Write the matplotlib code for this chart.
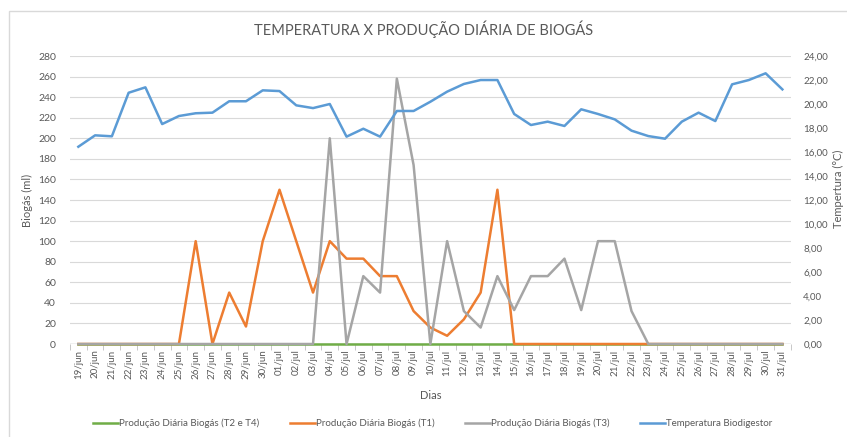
import matplotlib.pyplot as plt
from matplotlib.lines import Line2D
from matplotlib.patches import Rectangle

plt.rcParams['font.family'] = ['Lato', 'DejaVu Sans']

# dias de 19/jun a 31/jul
dias = [f"{d:02d}/jun" for d in range(19, 31)] + [f"{d:02d}/jul" for d in range(1, 32)]

# producao diaria de biogas (ml)
biogas_t2_t4 = [0] * 43
biogas_t1 = [0, 0, 0, 0, 0, 0, 0, 100, 0, 50, 17, 100, 150, 100, 50, 100, 83, 83, 66, 66,
             32, 16, 8, 24, 50, 150, 0, 0, 0, 0, 0, 0, 0, 0, 0,
             0, 0, 0, 0, 0, 0, 0, 0]
biogas_t3 = [0, 0, 0, 0, 0, 0, 0, 0, 0, 0, 0, 0, 0, 0, 0, 200, 0, 66, 50, 258,
             174, 0, 100, 32, 16, 66, 33, 66, 66, 83, 33, 100, 100, 32, 0,
             0, 0, 0, 0, 0, 0, 0, 0]

# temperatura do biodigestor (C)
temperatura = [16.44, 17.39, 17.31, 20.94, 21.39, 18.33, 19.00, 19.23, 19.28, 20.23, 20.23,
               21.14, 21.08, 19.89, 19.66, 20.00, 17.28, 17.94, 17.28, 19.42, 19.42, 20.19,
               21.03, 21.67, 22.00, 22.00, 19.17, 18.25, 18.53, 18.17, 19.56, 19.17, 18.72,
               17.78, 17.33, 17.11, 18.53, 19.28, 18.58, 21.64, 22.00, 22.56, 21.22]

c_green = '#70AD47'
c_orange = '#ED7D31'
c_gray = '#A5A5A5'
c_blue = '#5B9BD5'
txt = '#595959'

fig = plt.figure(figsize=(8.47, 4.37), dpi=100)
# moldura do grafico
fig.add_artist(Rectangle((9 / 847, -0.1), 1.1, 1.1 - 11 / 437, transform=fig.transFigure,
                         fill=False, edgecolor='#D9D9D9', lw=1))
ax = fig.add_axes([0.0826, 0.2128, 0.851, 0.659])
ax2 = ax.twinx()

x = list(range(len(dias)))
lw = 1.8
ax.plot(x, biogas_t2_t4, color=c_green, lw=lw, zorder=3, clip_on=False)
ax.plot(x, biogas_t1, color=c_orange, lw=lw, zorder=4, clip_on=False)
ax.plot(x, biogas_t3, color=c_gray, lw=lw, zorder=5, clip_on=False)
ax2.plot(x, temperatura, color=c_blue, lw=lw)

ax.set_xlim(-0.5, len(dias) - 0.5)
ax.set_ylim(0, 280)
ax.set_yticks(range(0, 281, 20))
ax2.set_ylim(0, 24)
ax2.set_yticks(range(0, 25, 2))
ax2.set_yticklabels([f"{v:.2f}".replace('.', ',') for v in range(0, 25, 2)])

ax.grid(axis='y', color='#D9D9D9', lw=0.8)
ax.set_axisbelow(True)
for a in (ax, ax2):
    for s in ('top', 'left', 'right', 'bottom'):
        a.spines[s].set_visible(False)
ax.axhline(0, color='#BFBFBF', lw=1, zorder=2)

ax.set_xticks(x)
ax.set_xticklabels(dias, rotation=90, fontsize=7, color=txt)
ax.set_xticks([i - 0.5 for i in range(len(dias) + 1)], minor=True)
ax.tick_params(axis='x', which='major', length=0, pad=4)
ax.tick_params(axis='x', which='minor', length=4, color='#BFBFBF')
ax.tick_params(axis='y', length=0, labelsize=7.5, labelcolor=txt, pad=10)
ax2.tick_params(axis='y', length=0, labelsize=7, labelcolor=txt, pad=9)

ax.set_ylabel('Biogás (ml)', fontsize=8, color=txt, labelpad=4)
ax2.set_ylabel('Tempertura (°C)', fontsize=8, color=txt, rotation=90)
ax2.yaxis.set_label_coords(1.058, 0.54)
ax.set_xlabel('Dias', fontsize=8, color=txt, labelpad=8)

fig.suptitle('TEMPERATURA X PRODUÇÃO DIÁRIA DE BIOGÁS', fontsize=10.5, color=txt, y=0.953)

handles = [Line2D([], [], color=c, lw=lw) for c in (c_green, c_orange, c_gray, c_blue)]
labels = ['Produção Diária Biogás (T2 e T4)', 'Produção Diária Biogás (T1)',
          'Produção Diária Biogás (T3)', 'Temperatura Biodigestor']
fig.legend(handles, labels, loc='lower center', ncol=4, frameon=False, fontsize=7,
           labelcolor=txt, bbox_to_anchor=(0.511, 0.0), columnspacing=3.1,
           handlelength=2.6, handletextpad=0.1)

fig.savefig('out.png', dpi=100)
